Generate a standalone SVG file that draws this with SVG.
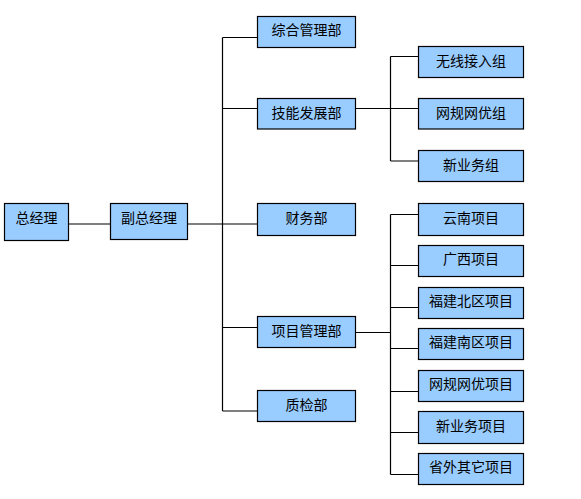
<svg xmlns="http://www.w3.org/2000/svg" width="581" height="499" viewBox="0 0 581 499">
<style>
.n rect{fill:#99ccff;stroke:#000;stroke-width:1.2}
.n text{font-family:"Noto Sans CJK SC","Noto Sans CJK JP",sans-serif;font-size:14px;fill:#000;text-anchor:middle}
#c path{fill:none;stroke:#000;stroke-width:1.2}
</style>
<rect width="581" height="499" fill="#fff"/>
<g id="c">
<path d="M68.5 224H110.5M187.5 224H257.5"/>
<path d="M222.5 37.5V411M222.5 37.5H257.5M222.5 108.5H257.5M222.5 327.5H257.5M222.5 411H257.5"/>
<path d="M355.5 108.5H418.5M390.5 56.5V161M390.5 56.5H418.5M390.5 161H418.5"/>
<path d="M355.5 332.5H390.5M390.5 214.5V474.5M390.5 214.5H418.5M390.5 265.5H418.5M390.5 307.5H418.5M390.5 348.5H418.5M390.5 391.5H418.5M390.5 432.5H418.5M390.5 474.5H418.5"/>
</g>
<g id="n1" class="n"><rect x="4.5" y="203.5" width="64" height="37"/><text x="36.5" y="222.5">总经理</text></g>
<g id="n2" class="n"><rect x="110.5" y="203.5" width="77" height="36"/><text x="149" y="222.5">副总经理</text></g>
<g id="n3" class="n"><rect x="257.5" y="16.5" width="98" height="31"/><text x="306.5" y="35">综合管理部</text></g>
<g id="n4" class="n"><rect x="257.5" y="98.5" width="98" height="30.5"/><text x="306.5" y="117.5">技能发展部</text></g>
<g id="n5" class="n"><rect x="257.5" y="203.5" width="98" height="32"/><text x="306.5" y="222.5">财务部</text></g>
<g id="n6" class="n"><rect x="257.5" y="316.5" width="98" height="31"/><text x="306.5" y="335.5">项目管理部</text></g>
<g id="n7" class="n"><rect x="257.5" y="390.5" width="98" height="31"/><text x="306.5" y="409.5">质检部</text></g>
<g id="n8" class="n"><rect x="418.5" y="46.5" width="105" height="31"/><text x="471" y="65.5">无线接入组</text></g>
<g id="n9" class="n"><rect x="418.5" y="98.5" width="105" height="30.5"/><text x="471" y="117.5">网规网优组</text></g>
<g id="n10" class="n"><rect x="418.5" y="150.5" width="105" height="31"/><text x="471" y="169.5">新业务组</text></g>
<g id="n11" class="n"><rect x="418.5" y="203.5" width="105" height="32"/><text x="471" y="222.5">云南项目</text></g>
<g id="n12" class="n"><rect x="418.5" y="245.5" width="105" height="31"/><text x="471" y="264">广西项目</text></g>
<g id="n13" class="n"><rect x="418.5" y="287.5" width="105" height="31"/><text x="471" y="306">福建北区项目</text></g>
<g id="n14" class="n"><rect x="418.5" y="328.5" width="105" height="31"/><text x="471" y="347">福建南区项目</text></g>
<g id="n15" class="n"><rect x="418.5" y="370.5" width="105" height="31"/><text x="471" y="389">网规网优项目</text></g>
<g id="n16" class="n"><rect x="418.5" y="411.5" width="105" height="32"/><text x="471" y="430.5">新业务项目</text></g>
<g id="n17" class="n"><rect x="418.5" y="453.5" width="105" height="31"/><text x="471" y="472">省外其它项目</text></g>
</svg>
